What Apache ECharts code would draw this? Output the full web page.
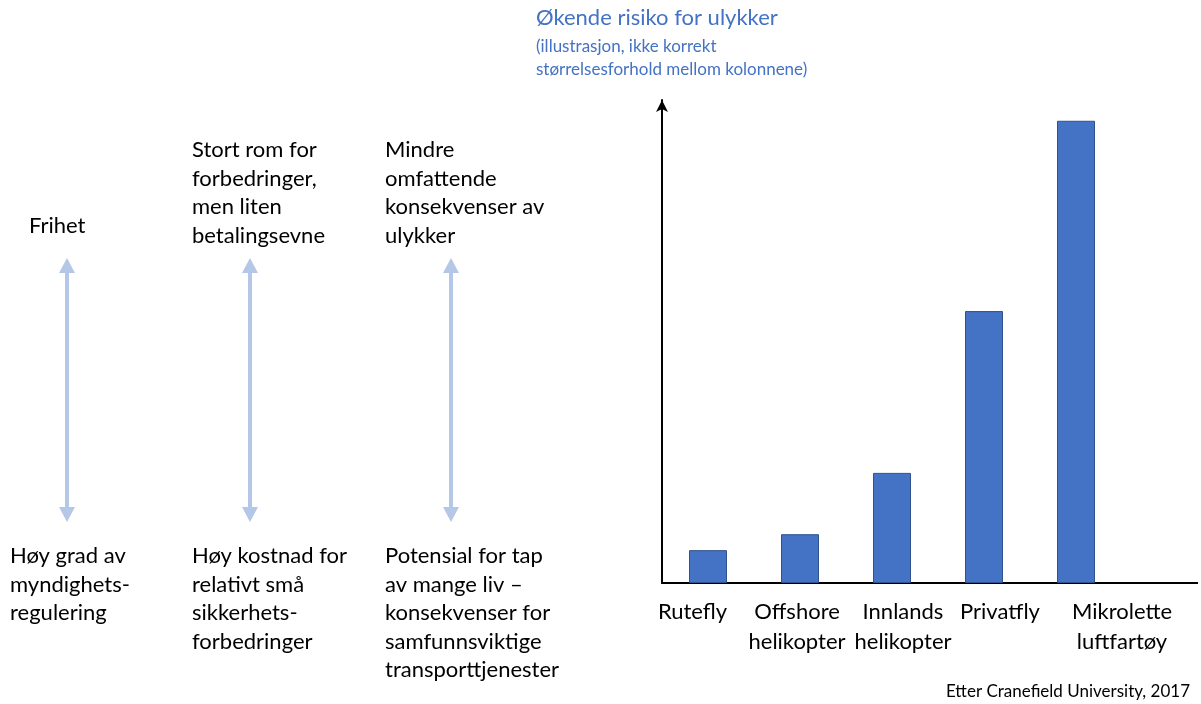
<!DOCTYPE html>
<html>
<head>
<meta charset="utf-8">
<script src="https://cdn.jsdelivr.net/npm/echarts@6/dist/echarts.min.js"></script>
<style>
html, body { margin: 0; padding: 0; background: #fff; }
#main { width: 1201px; height: 704px; }
</style>
</head>
<body>
<div id="main"></div>
<script>
// data
const categories = ['Rutefly', 'Offshore\nhelikopter', 'Innlands\nhelikopter', 'Privatfly', 'Mikrolette\nluftfartøy'];
const riskValues = [6.8, 10.1, 22.8, 56.3, 95.7];
const topNotes = ['Frihet', 'Stort rom for\nforbedringer,\nmen liten\nbetalingsevne', 'Mindre\nomfattende\nkonsekvenser av\nulykker'];
const bottomNotes = ['Høy grad av\nmyndighets-\nregulering', 'Høy kostnad for\nrelativt små\nsikkerhets-\nforbedringer', 'Potensial for tap\nav mange liv –\nkonsekvenser for\nsamfunnsviktige\ntransporttjenester'];

// layout only
const labelPads = [[0, 31, 0, 0], [0, 6, 0, 0], [0, 0, 0, 22], [0, 0, 0, 32], [0, 0, 0, 92]];
const noteX = [67, 250, 451];
const topLeft = [29, 192, 385];
const topY = [212, 136, 136];
const bottomLeft = [10, 192, 385];
const FONT = 'Lato, "Noto Sans", sans-serif';

let chart = echarts.init(document.getElementById('main'));

let graphics = [];
for (let i = 0; i < 3; i++) {
    graphics.push({
        type: 'text', left: topLeft[i], top: topY[i],
        style: { text: topNotes[i], font: '22px ' + FONT, lineHeight: 28.5, fill: '#000' }
    });
    graphics.push({
        type: 'text', left: bottomLeft[i], top: 542,
        style: { text: bottomNotes[i], font: '22px ' + FONT, lineHeight: 28.5, fill: '#000' }
    });
    //双向箭头
    let x = noteX[i];
    graphics.push({
        type: 'line', shape: { x1: x, y1: 268, x2: x, y2: 512 },
        style: { stroke: '#B4C7E7', lineWidth: 4 }
    });
    graphics.push({
        type: 'polygon', shape: { points: [[x - 8, 273], [x, 258], [x + 8, 273]] },
        style: { fill: '#B4C7E7' }
    });
    graphics.push({
        type: 'polygon', shape: { points: [[x - 8, 507], [x, 522], [x + 8, 507]] },
        style: { fill: '#B4C7E7' }
    });
}
// x-akse forlenget
graphics.push({
    type: 'line', shape: { x1: 1121, y1: 583, x2: 1198, y2: 583 },
    style: { stroke: '#000', lineWidth: 2 }
});
graphics.push({
    type: 'text', right: 11, top: 683,
    style: { text: 'Etter Cranefield University, 2017', font: '17px ' + FONT, fill: '#000' }
});

chart.setOption({
    animation: false,
    title: {
        text: 'Økende risiko for ulykker',
        subtext: '(illustrasjon, ikke korrekt\nstørrelsesforhold mellom kolonnene)',
        left: 536,
        top: 5,
        padding: 0,
        itemGap: 4,
        textStyle: { fontFamily: FONT, fontSize: 22, fontWeight: 'normal', color: '#4472C4', lineHeight: 26 },
        subtextStyle: { fontFamily: FONT, fontSize: 17, color: '#4472C4', lineHeight: 23 }
    },
    grid: {
        left: 662,
        right: 79,
        top: 100,
        bottom: 121
    },
    xAxis: {
        type: 'category',
        data: categories.map((c, i) => ({ value: c, textStyle: { padding: labelPads[i] } })),
        axisLine: { lineStyle: { color: '#000', width: 2 } },
        axisTick: { show: false },
        axisLabel: {
            color: '#000',
            fontFamily: FONT,
            fontSize: 22,
            lineHeight: 30,
            margin: 14,
            interval: 0
        }
    },
    yAxis: {
        type: 'value',
        min: 0,
        max: 100,
        axisLine: {
            show: true,
            symbol: ['none', 'arrow'],
            symbolSize: [9, 12],
            lineStyle: { color: '#000', width: 2 }
        },
        axisTick: { show: false },
        axisLabel: { show: false },
        splitLine: { show: false }
    },
    series: [
        {
            type: 'bar',
            data: riskValues,
            barWidth: 38,
            itemStyle: { color: '#4472C4', borderColor: '#2F528F', borderWidth: 1 }
        }
    ],
    graphic: graphics
});
</script>
</body>
</html>
